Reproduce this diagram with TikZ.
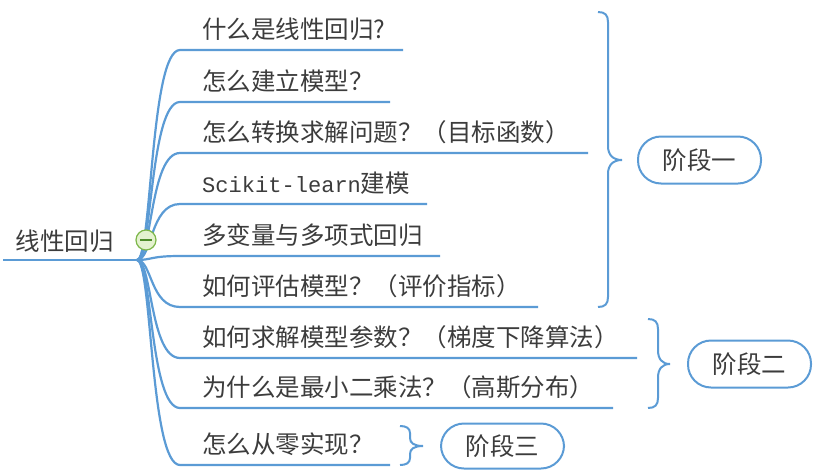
\documentclass[tikz,border=0pt]{standalone}
\usepackage{fontspec}
\setmainfont{Noto Sans CJK SC}
\setmonofont[Scale=0.9]{Liberation Mono}
\usetikzlibrary{positioning}
\definecolor{branchblue}{HTML}{5B9BD5}
\definecolor{inkgray}{HTML}{3C3C3C}
\definecolor{knobgreen}{HTML}{7DB74A}
\definecolor{knobfill}{HTML}{E4F2CF}
\definecolor{knobdark}{HTML}{4E8C2A}

\begin{document}
\begin{tikzpicture}[x=1pt,y=-1pt,
topic/.style={text=inkgray,font=\fontsize{24.5}{28}\selectfont,inner sep=0pt,anchor=base west},
branch/.style={draw=branchblue,line width=2.2pt},
brace/.style={draw=branchblue,line width=2pt},
stage/.style={draw=branchblue,line width=2pt,rounded corners=23pt,minimum width=123pt,
              minimum height=47pt,text=inkgray,font=\fontsize{24.5}{28}\selectfont},
knob/.style={circle,draw=knobgreen,fill=knobfill,line width=1.2pt,minimum size=20pt,inner sep=0pt},
]
    \useasboundingbox (0,0) rectangle (817,472);

    % root
    \node [topic, anchor=base] (root) at (65,250) {线性回归};
    \coordinate (hub) at (137,260);
    \draw [branch] (3,260) -- (hub);

    % branches and underlines
    \foreach \i/\y/\e in {1/50/403, 2/102/390, 3/153/588, 4/204/427, 5/256/440,
                          6/307/538, 7/358/637, 8/408/613, 9/465/390}
    {
        \coordinate (u\i) at (180,\y);
        \draw [branch] (hub) .. controls (152,260) and (150,\y) .. (u\i) -- (\e,\y);
    }

    \node [topic] (c1) at (202,38) {什么是线性回归?};
    \node [topic] (c2) at (202,90) {怎么建立模型？};
    \node [topic] (c3) at (202,141) {怎么转换求解问题？（目标函数）};
    \node [topic] (c4) at (202,192) {{\ttfamily Scikit-learn}建模};
    \node [topic] (c5) at (202,244) {多变量与多项式回归};
    \node [topic] (c6) at (202,295) {如何评估模型？（评价指标）};
    \node [topic] (c7) at (202,346) {如何求解模型参数？（梯度下降算法）};
    \node [topic] (c8) at (202,396) {为什么是最小二乘法？（高斯分布）};
    \node [topic] (c9) at (202,453) {怎么从零实现？};

    % collapse knob
    \node [knob] (knob) at (146,240) {};
    \draw [knobdark, line width=1.2pt] ([xshift=-6pt]knob.center) -- ([xshift=6pt]knob.center);

    % stage one
    \draw [brace] (598,12) .. controls (605,12) and (608,15) .. (608,22) -- (608,146)
        .. controls (608,155) and (613,160) .. (622,160) coordinate (tip1)
        .. controls (613,160) and (608,165) .. (608,174) -- (608,297)
        .. controls (608,304) and (605,307) .. (598,307);
    \node [stage, right=15pt of tip1] (s1) {阶段一};

    % stage two
    \draw [brace] (648,319) .. controls (655,319) and (658,322) .. (658,329) -- (658,350)
        .. controls (658,359) and (662,364) .. (670,364) coordinate (tip2)
        .. controls (662,364) and (658,369) .. (658,378) -- (658,398)
        .. controls (658,405) and (655,408) .. (648,408);
    \node [stage, right=17pt of tip2] (s2) {阶段二};

    % stage three
    \draw [brace] (400,426) .. controls (406,426) and (410,428) .. (410,433) -- (410,438)
        .. controls (410,443) and (414,446) .. (423,446) coordinate (tip3)
        .. controls (414,446) and (410,449) .. (410,454) -- (410,458)
        .. controls (410,463) and (406,465) .. (400,465);
    \node [stage, right=17pt of tip3, minimum height=45pt] (s3) {阶段三};
\end{tikzpicture}
\end{document}
